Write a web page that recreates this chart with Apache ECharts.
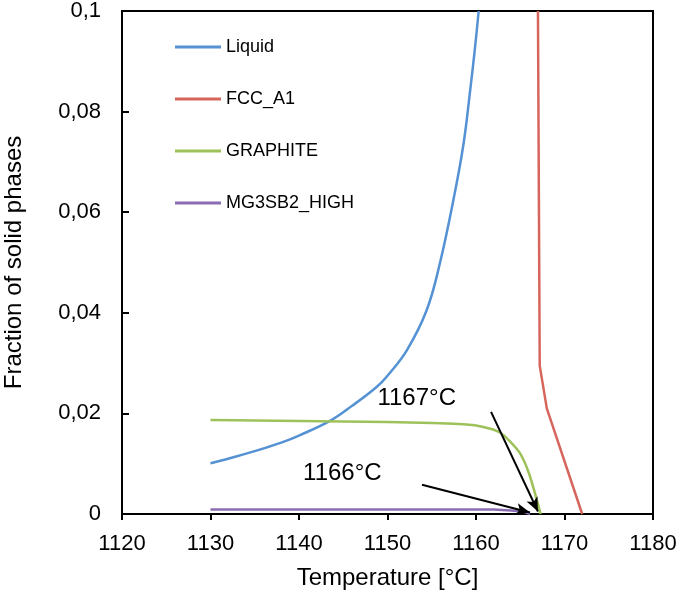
<!DOCTYPE html>
<html><head><meta charset="utf-8">
<script src="https://cdn.jsdelivr.net/npm/echarts@6/dist/echarts.min.js"></script>
<style>html,body{margin:0;padding:0;background:#fff}#c{width:685px;height:596px}</style>
</head><body><div id="c"></div>
<script>
const seriesNames = ['Liquid', 'FCC_A1', 'GRAPHITE', 'MG3SB2_HIGH'];
const liquidT = [1130, 1132, 1135, 1138, 1140, 1143.5, 1146, 1148.8, 1150, 1152.2, 1154.4, 1155.9, 1157.6, 1158.6, 1159.3, 1159.9, 1160.3];
const liquidF = [0.0101, 0.0110, 0.0125, 0.0142, 0.0156, 0.0185, 0.0215, 0.0253, 0.0275, 0.0326, 0.0404, 0.0497, 0.0638, 0.0737, 0.0836, 0.0929, 0.1];
const fccT = [1167.0, 1167.2, 1168.0, 1172.0];
const fccF = [0.1, 0.0295, 0.021, 0];
const graphiteT = [1130, 1135, 1140, 1145, 1150, 1155, 1158, 1160, 1161.5, 1162.7, 1163.8, 1165, 1166, 1167.3];
const graphiteF = [0.0187, 0.0186, 0.0185, 0.0184, 0.0183, 0.0181, 0.0179, 0.0176, 0.0170, 0.0162, 0.0145, 0.0120, 0.0080, 0];
const mgT = [1130, 1162, 1164, 1165.5, 1166.1];
const mgF = [0.0009, 0.0009, 0.0007, 0.0004, 0];
const xTicks = [1120, 1130, 1140, 1150, 1160, 1170, 1180];
const yTicks = [0, 0.02, 0.04, 0.06, 0.08, 0.1];
const annotations = [
  {text: '1167°C', at: [1153.3, 0.0229], from: [1161.7, 0.0203], to: [1167.0, 0.0005]},
  {text: '1166°C', at: [1144.9, 0.0080], from: [1153.9, 0.0058], to: [1166.1, 0.0003]}
];
const colors = ['#5592D4', '#D6665C', '#9DC25A', '#8A6DB2'];

const zip = (a, b) => a.map((v, i) => [v, b[i]]);
const font = 'Liberation Sans, Arial, sans-serif';
const chart = echarts.init(document.getElementById('c'));
const lineSeries = [[liquidT, liquidF], [fccT, fccF], [graphiteT, graphiteF], [mgT, mgF]].map((d, i) => ({
  name: seriesNames[i], type: 'line', data: zip(d[0], d[1]), symbol: 'none',
  smooth: i === 0 ? 0.4 : (i === 2 ? 0.3 : false),
  lineStyle: {color: colors[i], width: 2.5}, itemStyle: {color: colors[i]},
  z: 3
}));
chart.setOption({
  animation: false,
  grid: {left: 122, right: 32, top: 11, bottom: 82, show: true, borderColor: '#000', borderWidth: 2,
    backgroundColor: 'transparent', containLabel: false, outerBoundsMode: 'none'},
  legend: {
    data: seriesNames, orient: 'vertical', left: 170, top: 32,
    icon: 'rect', itemWidth: 46, itemHeight: 3, itemGap: 32, selectedMode: false,
    textStyle: {fontFamily: font, fontSize: 18, color: '#000', lineHeight: 20}
  },
  xAxis: {
    type: 'value', min: xTicks[0], max: xTicks[xTicks.length - 1], interval: 10,
    axisLine: {lineStyle: {color: '#000', width: 2}},
    axisTick: {show: true, inside: false, length: 6, lineStyle: {color: '#000', width: 2}},
    axisLabel: {fontFamily: font, fontSize: 22, color: '#000', margin: 19, formatter: v => String(v)},
    splitLine: {show: false},
    name: 'Temperature [°C]', nameLocation: 'middle', nameGap: 52,
    nameTextStyle: {fontFamily: font, fontSize: 24, color: '#000'}
  },
  yAxis: {
    type: 'value', min: yTicks[0], max: yTicks[yTicks.length - 1], interval: 0.02,
    axisLine: {lineStyle: {color: '#000', width: 2}},
    axisTick: {show: true, inside: true, length: 7, lineStyle: {color: '#000', width: 2}},
    axisLabel: {fontFamily: font, fontSize: 22, color: '#000', margin: 21,
      formatter: v => v === 0 ? '0' : (+v.toFixed(2)).toString().replace('.', ',')},
    splitLine: {show: false},
    name: 'Fraction of solid phases', nameLocation: 'middle', nameGap: 96,
    nameTextStyle: {fontFamily: font, fontSize: 24, color: '#000'}
  },
  series: lineSeries.concat([{
    name: 'annot', type: 'line', data: [], symbol: 'none', silent: true, z: 5,
    markLine: {
      silent: true, symbol: ['none', 'arrow'], symbolSize: [9, 14], animation: false,
      lineStyle: {color: '#000', width: 2, type: 'solid'},
      label: {show: false},
      data: annotations.map(a => [{coord: a.from}, {coord: a.to}])
    },
    markPoint: {
      silent: true, symbol: 'circle', symbolSize: 0, animation: false,
      label: {show: true, position: 'inside', fontFamily: font, fontSize: 24, color: '#000',
        formatter: p => p.name},
      data: annotations.map(a => ({name: a.text, coord: a.at}))
    }
  }])
});
</script></body></html>
